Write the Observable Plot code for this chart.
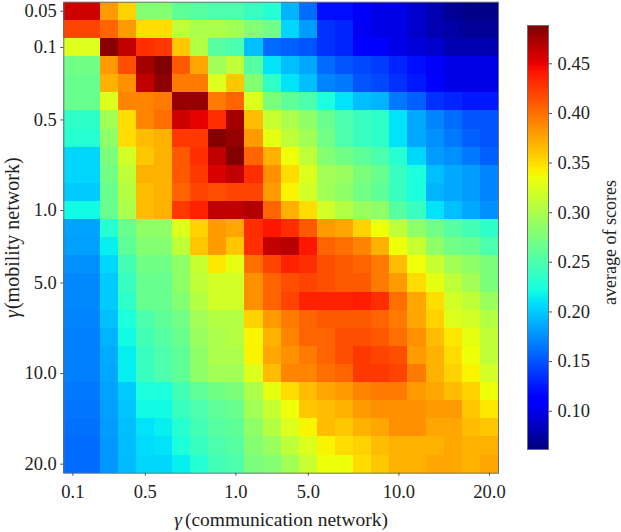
<!DOCTYPE html>
<html><head><meta charset="utf-8">
<script src="https://cdn.jsdelivr.net/npm/d3@7"></script>
<script src="https://cdn.jsdelivr.net/npm/@observablehq/plot@0.6"></script>
<style>
html,body{margin:0;padding:0;background:#fff;}
#wrap{position:relative;width:621px;height:532px;overflow:hidden;}
#wrap svg{position:absolute;left:0;top:0;background:transparent;}
</style></head><body><div id="wrap"></div>
<script>
const xTickIndex=[0,4,9,13,18,23];
const xTickLabels=["0.1","0.5","1.0","5.0","10.0","20.0"];
const yTickIndex=[0,2,6,11,15,20,25];
const yTickLabels=["0.05","0.1","0.5","1.0","5.0","10.0","20.0"];
const colorTicks=[0.10,0.15,0.20,0.25,0.30,0.35,0.40,0.45];
const scoreMin=0.0614, scoreMax=0.4886;
const scoreRows=[
[.46,.46,.38,.355,.28,.28,.26,.255,.25,.25,.24,.23,.19,.16,.12,.12,.105,.10,.10,.09,.08,.07,.065,.065],
[.42,.42,.405,.38,.35,.35,.31,.30,.30,.295,.28,.27,.205,.18,.135,.13,.105,.10,.10,.09,.08,.075,.07,.07],
[.325,.325,.485,.465,.43,.425,.36,.305,.255,.25,.195,.16,.155,.15,.135,.13,.115,.11,.10,.095,.09,.08,.08,.08],
[.27,.27,.38,.415,.475,.488,.41,.375,.295,.31,.255,.21,.195,.185,.16,.15,.145,.14,.13,.12,.105,.10,.10,.10],
[.265,.265,.37,.385,.465,.483,.395,.395,.325,.36,.28,.235,.21,.195,.17,.165,.15,.145,.135,.125,.115,.10,.10,.10],
[.265,.265,.325,.39,.39,.395,.48,.48,.395,.405,.325,.275,.26,.25,.225,.21,.195,.19,.165,.155,.135,.13,.125,.125],
[.235,.235,.295,.35,.39,.40,.46,.45,.43,.475,.365,.315,.30,.285,.265,.25,.24,.235,.21,.185,.17,.16,.15,.15],
[.23,.23,.285,.35,.365,.37,.425,.425,.487,.48,.38,.33,.31,.295,.27,.25,.24,.235,.21,.185,.175,.165,.155,.15],
[.205,.205,.275,.32,.36,.37,.41,.43,.465,.488,.405,.37,.335,.31,.28,.27,.26,.25,.23,.205,.18,.175,.165,.155],
[.205,.205,.27,.31,.37,.37,.41,.425,.455,.465,.43,.385,.35,.325,.295,.29,.275,.265,.24,.225,.195,.185,.18,.17],
[.20,.20,.265,.305,.365,.37,.405,.42,.415,.42,.42,.38,.34,.32,.295,.285,.27,.26,.24,.225,.19,.185,.18,.17],
[.22,.22,.265,.30,.365,.37,.425,.435,.465,.465,.47,.405,.37,.35,.32,.305,.29,.285,.255,.24,.21,.195,.185,.175],
[.183,.183,.23,.265,.285,.285,.325,.355,.38,.375,.43,.44,.43,.41,.38,.375,.355,.335,.31,.285,.27,.255,.245,.235],
[.182,.182,.215,.26,.28,.28,.31,.36,.38,.36,.43,.465,.468,.44,.405,.40,.39,.37,.335,.315,.285,.27,.265,.25],
[.175,.175,.205,.245,.27,.27,.285,.315,.345,.33,.40,.42,.435,.43,.415,.41,.405,.395,.365,.335,.315,.295,.285,.275],
[.172,.172,.20,.24,.265,.265,.285,.31,.32,.32,.385,.405,.415,.42,.415,.41,.41,.395,.38,.35,.33,.31,.295,.275],
[.172,.172,.20,.235,.265,.265,.28,.305,.32,.32,.385,.405,.42,.435,.435,.435,.437,.43,.40,.375,.35,.32,.31,.29],
[.17,.17,.195,.225,.25,.26,.27,.295,.305,.305,.355,.38,.395,.405,.41,.41,.41,.405,.395,.375,.355,.325,.32,.305],
[.168,.168,.19,.22,.245,.255,.265,.29,.30,.305,.34,.37,.39,.405,.405,.415,.415,.41,.40,.385,.365,.345,.33,.31],
[.168,.168,.187,.215,.24,.25,.26,.285,.30,.30,.34,.375,.385,.395,.405,.415,.425,.42,.415,.38,.37,.35,.335,.31],
[.168,.168,.185,.215,.24,.25,.26,.285,.295,.295,.325,.365,.39,.39,.40,.405,.425,.425,.42,.395,.37,.355,.34,.32],
[.165,.165,.183,.20,.225,.225,.245,.26,.27,.275,.30,.33,.35,.365,.375,.38,.39,.395,.395,.38,.375,.365,.355,.335],
[.164,.164,.182,.197,.22,.22,.24,.25,.26,.265,.295,.315,.335,.36,.365,.37,.38,.385,.385,.385,.38,.38,.36,.345],
[.162,.162,.18,.195,.21,.215,.23,.245,.255,.26,.285,.305,.325,.34,.365,.36,.37,.375,.385,.385,.375,.375,.365,.36],
[.16,.16,.179,.194,.207,.21,.225,.24,.25,.255,.28,.29,.31,.325,.34,.35,.355,.365,.37,.37,.37,.375,.37,.37],
[.16,.16,.178,.193,.205,.205,.215,.23,.245,.25,.275,.28,.295,.315,.335,.335,.35,.36,.37,.37,.375,.375,.37,.375]
];

const jetR=d3.scaleLinear([0,.35,.66,.89,1],[0,0,1,1,.5]);
const jetG=d3.scaleLinear([0,.125,.375,.64,.91,1],[0,0,1,1,0,0]);
const jetB=d3.scaleLinear([0,.11,.34,.65,1],[.5,1,1,0,0]);
const jet=t=>{const c=f=>Math.round(255*Math.max(0,Math.min(1,f(t))));return `rgb(${c(jetR)},${c(jetG)},${c(jetB)})`;};
const colorScale={type:"linear",domain:[scoreMin,scoreMax],interpolate:jet,clamp:true};

const cells=scoreRows.flatMap((row,r)=>row.map((v,c)=>({c,r,v})));
const font="'Liberation Serif',serif";
const ink="#222";
const tickInk="#555";

const main=Plot.plot({
  width:621,height:532,
  marginLeft:63.3,marginRight:123,marginTop:1.7,marginBottom:59.3,
  style:{fontFamily:font,fontSize:"18.5px",color:ink,background:"transparent"},
  x:{type:"band",domain:d3.range(24),padding:0,round:false},
  y:{type:"band",domain:d3.range(26),padding:0,round:false},
  color:colorScale,
  marks:[
    Plot.cell(cells,{x:"c",y:"r",fill:"v",inset:0,shapeRendering:"crispEdges"}),
    Plot.frame({stroke:"#6b7075",strokeWidth:1}),
    Plot.axisX({ticks:xTickIndex,tickFormat:i=>xTickLabels[xTickIndex.indexOf(i)],tickSize:3,tickPadding:9,stroke:tickInk,
      label:"γ(communication network)",labelAnchor:"center",labelArrow:"none",labelOffset:53}),
    Plot.axisY({ticks:yTickIndex,tickFormat:i=>yTickLabels[yTickIndex.indexOf(i)],tickSize:3,tickPadding:4,stroke:tickInk,
      label:"γ(mobility network)",labelAnchor:"center",labelArrow:"none",labelOffset:59})
  ]
});

const barSteps=d3.range(0,256).map(i=>({lo:scoreMin+(scoreMax-scoreMin)*i/256,hi:scoreMin+(scoreMax-scoreMin)*(i+1)/256}));
const bar=Plot.plot({
  width:621,height:532,
  marginLeft:527,marginRight:73,marginTop:25,marginBottom:83,
  style:{fontFamily:font,fontSize:"18.5px",color:ink,background:"transparent"},
  x:{axis:null,domain:[0,1]},
  y:{domain:[scoreMin,scoreMax]},
  color:colorScale,
  marks:[
    Plot.rect(barSteps,{x1:0,x2:1,y1:"lo",y2:"hi",fill:d=>(d.lo+d.hi)/2,shapeRendering:"crispEdges"}),
    Plot.frame({stroke:"#6b7075",strokeWidth:1}),
    Plot.axisY({anchor:"right",ticks:colorTicks,tickFormat:".2f",tickSize:3,tickPadding:6,stroke:tickInk,
      label:"average of scores",labelAnchor:"center",labelArrow:"none",labelOffset:67})
  ]
});

const wrap=document.getElementById("wrap");
wrap.append(main,bar);

// axis titles: italic gamma and per-title sizes
const byStart=(root,prefix)=>d3.select(root).selectAll("text").filter(function(){return this.textContent.startsWith(prefix);});
function italicGamma(prefix,size,dx){
  byStart(main,prefix).each(function(){
    const t=this.textContent; const sel=d3.select(this);
    sel.attr("font-size",size);
    const target=sel.select("tspan").empty()?sel:sel.select("tspan");
    target.text(null);
    target.append("tspan").attr("font-style","italic").text("γ");
    target.append("tspan").attr("dx",dx).text(t.slice(1));
  });
}
italicGamma("γ(comm",19.5,3);
italicGamma("γ(mob",20,1);
byStart(bar,"average").attr("font-size",18).attr("dx",-5);
</script></body></html>
